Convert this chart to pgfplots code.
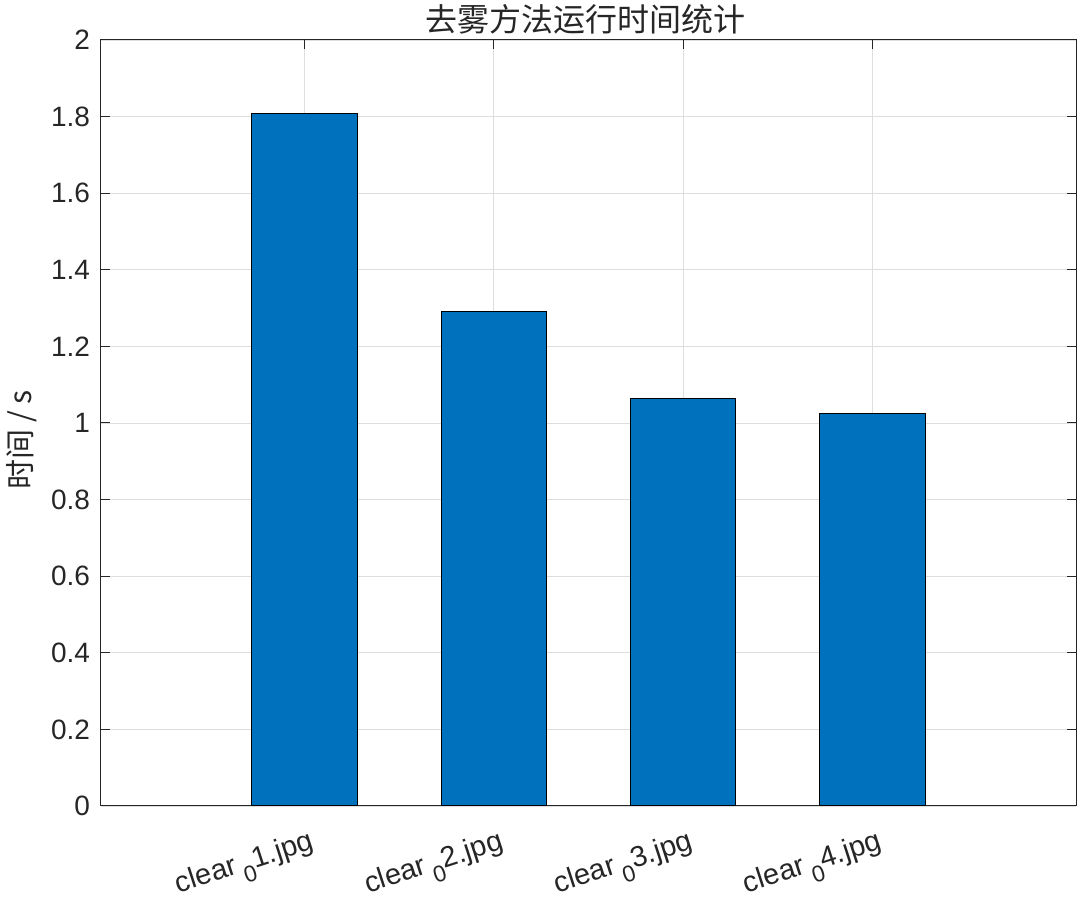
\documentclass[border=0pt]{standalone}
\usepackage{fontspec}
\setmainfont{Liberation Sans}
\newfontfamily\cjk{Noto Sans CJK SC}
\usepackage{pgfplots}
\pgfplotsset{compat=1.18}
\definecolor{mblue}{HTML}{0072BD}
\definecolor{axgray}{HTML}{262626}
\newcommand{\lbl}[1]{clear\,\raisebox{-0.75ex}{\fontsize{11.5}{11.5}\selectfont 0}#1.jpg}
\begin{document}
\begin{tikzpicture}
  \useasboundingbox (0,0) rectangle (540pt,448.5pt);
  \begin{axis}[
    at={(50.5pt,45.5pt)}, anchor=south west,
    scale only axis,
    width=487.5pt, height=383pt,
    xmin=-0.075, xmax=5.075,
    ymin=0, ymax=2,
    xtick={1,2,3,4},
    xticklabels={\lbl{1},\lbl{2},\lbl{3},\lbl{4}},
    ytick={0,0.2,...,2},
    tick align=inside,
    major tick length=4.5pt,
    axis line style={axgray, line width=0.5pt},
    tick style={axgray, line width=0.5pt},
    grid=major,
    grid style={black!13, line width=0.4pt},
    /pgf/number format/assume math mode=true,
    tick label style={font=\fontsize{14}{14}\selectfont, text=axgray},
    yticklabel style={xshift=-2pt},
    xticklabel style={font=\fontsize{14.5}{14.5}\selectfont, rotate=18, anchor=north east, xshift=2pt, yshift=-8pt},
    every axis title shift=0pt,
    title={\cjk 去雾方法运行时间统计},
    title style={font=\fontsize{16}{16}\selectfont, text=axgray, at={(rel axis cs:0.497,1.0117)}, anchor=base, inner sep=0pt},
    ylabel={\cjk 时间 / s},
    ylabel style={font=\fontsize{15}{15}\selectfont, text=axgray, at={(rel axis cs:-0.081,0.478)}, anchor=center},
  ]
    \addplot[ybar, bar width=0.555, fill=mblue, draw=black, line width=0.5pt]
      coordinates {(1,1.807) (2,1.292) (3,1.063) (4,1.026)};
  \end{axis}
\end{tikzpicture}
\end{document}
